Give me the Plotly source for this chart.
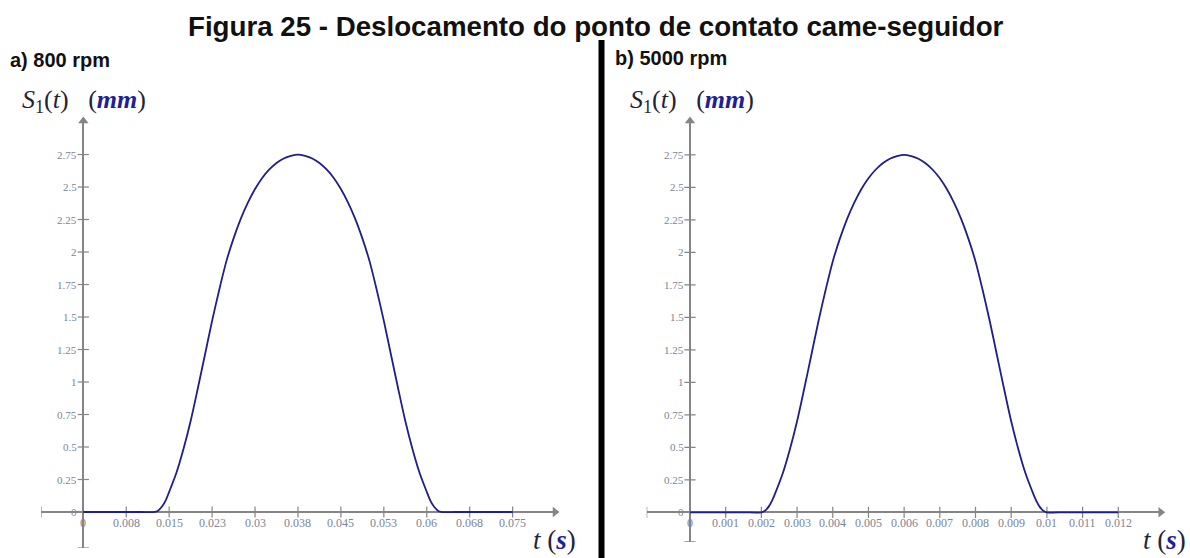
import plotly.graph_objects as go

# ---- data -------------------------------------------------------------
title_text = "Figura 25 - Deslocamento do ponto de contato came-seguidor"

# a) 800 rpm : displacement S1(t) of the cam-follower contact point [mm]
t800 = [0, 0.0025, 0.005, 0.0075, 0.01, 0.0125,
        0.0131, 0.01375, 0.0144, 0.015,
        0.01625, 0.0175, 0.01875, 0.02, 0.02125, 0.0225, 0.02375, 0.025, 0.02625,
        0.0275, 0.02875, 0.03, 0.03125, 0.0325, 0.03375, 0.035, 0.03625, 0.0375,
        0.03875, 0.04, 0.04125, 0.0425, 0.04375, 0.045, 0.04625, 0.0475, 0.04875,
        0.05, 0.05125, 0.0525, 0.05375, 0.055, 0.05625, 0.0575, 0.05875, 0.06,
        0.0606, 0.06125, 0.0619, 0.0625,
        0.065, 0.0675, 0.07, 0.0725, 0.075]
s800 = [0, 0, 0, 0, 0, 0,
        0.012, 0.042, 0.09, 0.155,
        0.30, 0.485, 0.70, 0.95, 1.21, 1.47, 1.71, 1.93, 2.105,
        2.255, 2.38, 2.485, 2.57, 2.635, 2.685, 2.72, 2.74, 2.75,
        2.74, 2.72, 2.685, 2.635, 2.57, 2.485, 2.38, 2.255, 2.105,
        1.93, 1.71, 1.47, 1.21, 0.95, 0.70, 0.485, 0.30, 0.155,
        0.09, 0.042, 0.012, 0,
        0, 0, 0, 0, 0]

# b) 5000 rpm
t5000 = [0, 0.0005, 0.001, 0.0015, 0.002,
         0.0021, 0.0022, 0.0023, 0.0024,
         0.0026, 0.0028, 0.003, 0.0032, 0.0034, 0.0036, 0.0038, 0.004, 0.0042,
         0.0044, 0.0046, 0.0048, 0.005, 0.0052, 0.0054, 0.0056, 0.0058, 0.006,
         0.0062, 0.0064, 0.0066, 0.0068, 0.007, 0.0072, 0.0074, 0.0076, 0.0078,
         0.008, 0.0082, 0.0084, 0.0086, 0.0088, 0.009, 0.0092, 0.0094, 0.0096,
         0.0097, 0.0098, 0.0099, 0.01,
         0.0105, 0.011, 0.0115, 0.012]
s5000 = [0, 0, 0, 0, 0,
         0.012, 0.042, 0.09, 0.155,
         0.30, 0.485, 0.70, 0.95, 1.21, 1.47, 1.71, 1.93, 2.105,
         2.255, 2.38, 2.485, 2.57, 2.635, 2.685, 2.72, 2.74, 2.75,
         2.74, 2.72, 2.685, 2.635, 2.57, 2.485, 2.38, 2.255, 2.105,
         1.93, 1.71, 1.47, 1.21, 0.95, 0.70, 0.485, 0.30, 0.155,
         0.09, 0.042, 0.012, 0,
         0, 0, 0, 0]

x_ticks_800 = [0.0075, 0.015, 0.0225, 0.03, 0.0375, 0.045, 0.0525, 0.06, 0.0675, 0.075]
x_labels_800 = ["0.008", "0.015", "0.023", "0.03", "0.038", "0.045", "0.053",
                "0.06", "0.068", "0.075"]
x_ticks_5000 = [0.001, 0.002, 0.003, 0.004, 0.005, 0.006, 0.007, 0.008, 0.009,
                0.01, 0.011, 0.012]
x_labels_5000 = ["0.001", "0.002", "0.003", "0.004", "0.005", "0.006", "0.007",
                 "0.008", "0.009", "0.01", "0.011", "0.012"]
y_ticks = [0, 0.25, 0.5, 0.75, 1, 1.25, 1.5, 1.75, 2, 2.25, 2.5, 2.75]
y_labels = ["0", "0.25", "0.5", "0.75", "1", "1.25", "1.5", "1.75", "2", "2.25",
            "2.5", "2.75"]

# ---- styling ------------------------------------------------------------
W, H = 1190, 558
CURVE = "#1e1e8c"
AXIS = "#858585"
TICKTXT = "#7b8594"
LABEL = "#1f2537"
UNIT = "#1e1e9a"
SERIF = "Liberation Serif, DejaVu Serif, serif"
SANS = "Liberation Sans, Arial, sans-serif"

fig = go.Figure()


def px_domain_x(p0, p1):
    return [p0 / W, p1 / W]


def px_domain_y(top, bottom):
    return [1 - bottom / H, 1 - top / H]


panels = [
    dict(t=t800, s=s800, xt=x_ticks_800, xl=x_labels_800,
         xr=[-0.00739, 0.0824], yr=[-0.277, 3.008],
         xdom=px_domain_x(41, 555), ydom=px_domain_y(121, 548),
         xa="x", ya="y"),
    dict(t=t5000, s=s5000, xt=x_ticks_5000, xl=x_labels_5000,
         xr=[-0.001213, 0.013189], yr=[-0.226, 3.01],
         xdom=px_domain_x(646.7, 1160.7), ydom=px_domain_y(121, 541.7),
         xa="x2", ya="y2"),
]

for i, p in enumerate(panels):
    xa, ya = p["xa"], p["ya"]
    # tick marks on the x axis and left end cap
    fig.add_trace(go.Scatter(
        x=p["xt"] + [p["xr"][0]], y=[0] * (len(p["xt"]) + 1),
        mode="markers", xaxis=xa, yaxis=ya, hoverinfo="skip",
        marker=dict(symbol="line-ns", size=8, line=dict(color=AXIS, width=1.2))))
    # tick marks on the y axis and bottom end cap
    fig.add_trace(go.Scatter(
        x=[0] * (len(y_ticks) + 1), y=y_ticks[1:] + [0, p["yr"][0]],
        mode="markers", xaxis=xa, yaxis=ya, hoverinfo="skip",
        marker=dict(symbol="line-ew", size=8, line=dict(color=AXIS, width=1.2))))
    # axis arrow heads
    fig.add_trace(go.Scatter(
        x=[p["xr"][1]], y=[0], mode="markers", xaxis=xa, yaxis=ya,
        hoverinfo="skip", cliponaxis=False,
        marker=dict(symbol="triangle-right", size=9, color=AXIS)))
    fig.add_trace(go.Scatter(
        x=[0], y=[p["yr"][1]], mode="markers", xaxis=xa, yaxis=ya,
        hoverinfo="skip", cliponaxis=False,
        marker=dict(symbol="triangle-up", size=9, color=AXIS)))
    # displacement curve
    fig.add_trace(go.Scatter(
        x=p["t"], y=p["s"], mode="lines", xaxis=xa, yaxis=ya,
        line=dict(color=CURVE, width=1.8, shape="spline", smoothing=0.8)))

    # x tick labels
    for xv, lab in zip([0] + p["xt"], ["0"] + p["xl"]):
        fig.add_annotation(x=xv, y=0, xref=xa, yref=ya, text=lab, showarrow=False,
                           xanchor="center", yanchor="middle", yshift=-11,
                           font=dict(family=SERIF, size=12, color=TICKTXT))
    # y tick labels
    for yv, lab in zip(y_ticks, y_labels):
        fig.add_annotation(x=0, y=yv, xref=xa, yref=ya, text=lab, showarrow=False,
                           xanchor="right", yanchor="middle", xshift=-4,
                           font=dict(family=SERIF, size=11, color=TICKTXT))

    axis_common = dict(showgrid=False, showticklabels=False, showline=False,
                       ticks="", zeroline=True, zerolinecolor=AXIS,
                       zerolinewidth=1.5, fixedrange=True)
    fig.layout[("xaxis" if i == 0 else "xaxis2")] = dict(
        domain=p["xdom"], range=p["xr"], anchor=ya, **axis_common)
    fig.layout[("yaxis" if i == 0 else "yaxis2")] = dict(
        domain=p["ydom"], range=p["yr"], anchor=xa, **axis_common)


def paper_text(x, y, text, size, family, color, xanchor="left"):
    fig.add_annotation(x=x / W, y=1 - y / H, xref="paper", yref="paper",
                       text=text, showarrow=False, xanchor=xanchor,
                       yanchor="middle",
                       font=dict(family=family, size=size, color=color))


# axis titles
ylab = ("<i>S</i><sub>1</sub>(<i>t</i>)   "
        "(<span style='color:" + UNIT + "'><b><i>mm</i></b></span>)")
xlab = "<i>t</i> (<span style='color:" + UNIT + "'><b><i>s</i></b></span>)"
for xc in (20, 628):
    paper_text(xc, 101, ylab, 26, SERIF, LABEL)
for xc in (578, 1188):
    paper_text(xc, 540, xlab, 27, SERIF, LABEL, xanchor="right")

# panel captions and title
paper_text(8, 60, "<b>a) 800 rpm</b>", 20, SANS, "#111111")
paper_text(613, 58, "<b>b) 5000 rpm</b>", 20, SANS, "#111111")
paper_text(596, 27, "<b>" + title_text + "</b>", 27.7, SANS, "#111111",
           xanchor="center")

# divider between the two panels
fig.add_shape(type="rect", xref="paper", yref="paper",
              x0=598.5 / W, x1=604.5 / W, y0=0, y1=1 - 40 / H,
              fillcolor="black", line=dict(width=0))

fig.update_layout(width=W, height=H, margin=dict(l=0, r=0, t=0, b=0),
                  paper_bgcolor="white", plot_bgcolor="white", showlegend=False)

fig.write_html("out.html")
